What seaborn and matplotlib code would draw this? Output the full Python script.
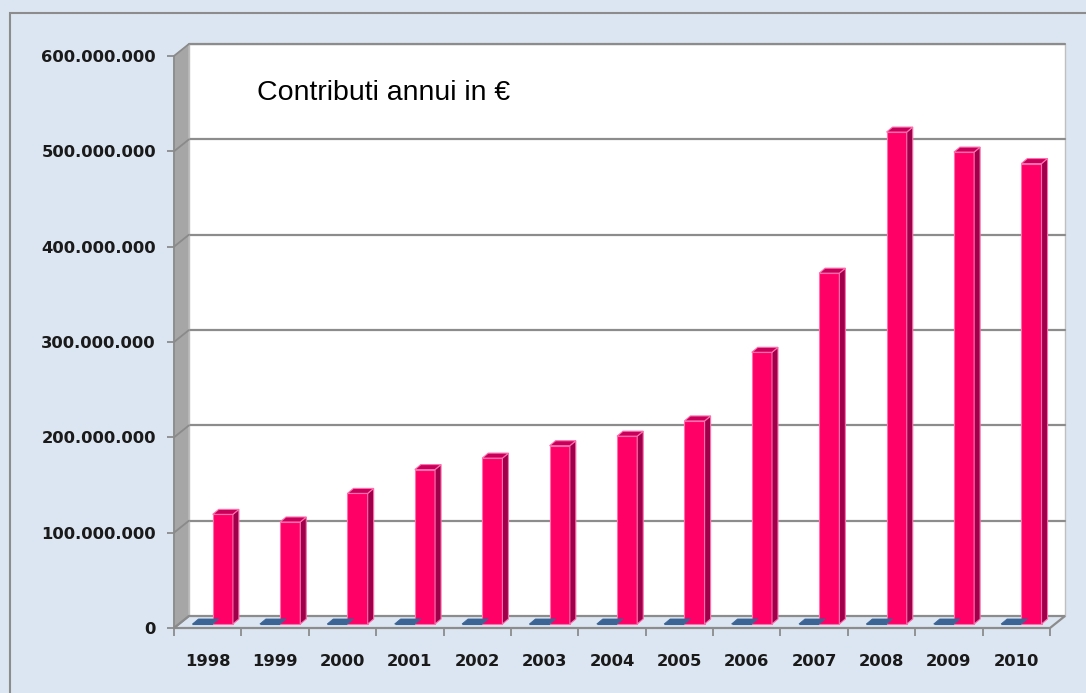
import numpy as np
import pandas as pd
import matplotlib
matplotlib.use("Agg")
import matplotlib.pyplot as plt
import matplotlib.transforms as mtransforms
from matplotlib.patches import Polygon, Rectangle
from matplotlib.lines import Line2D
from matplotlib import font_manager
import seaborn as sns

# ---------------- data ----------------
anni = ["1998", "1999", "2000", "2001", "2002", "2003", "2004",
        "2005", "2006", "2007", "2008", "2009", "2010"]
contributi = [115e6, 107e6, 137e6, 162e6, 174e6, 187e6, 197e6,
              213e6, 285e6, 368e6, 516e6, 495e6, 483e6]
serie_vuota = [0] * 13
y_ticks = [0, 100e6, 200e6, 300e6, 400e6, 500e6, 600e6]
y_labels = ["0", "100.000.000", "200.000.000", "300.000.000",
            "400.000.000", "500.000.000", "600.000.000"]
titolo = "Contributi annui in €"

df = pd.DataFrame({
    "anno": anni * 2,
    "valore": serie_vuota + contributi,
    "serie": ["Serie 1"] * 13 + ["Serie 2"] * 13,
})

# ---------------- style ----------------
BG = "#DCE6F2"
PINK = "#FF0066"
PINK_SIDE = "#A0004A"
PINK_TOP = "#C8005A"
PINK_EDGE = "#FF6FAE"
BLUE = "#3C6595"
GRID = "#8C8C8C"
WALL = "#A6A6A6"

sns.set_theme(style="white")
plt.rcParams["font.family"] = ["DejaVu Sans"]

W, H = 1086, 693
fig = plt.figure(figsize=(W / 100, H / 100), dpi=100, facecolor=BG)

# front plane: x 174..1050 px, y 628 (0) .. 56 (600M) px from top
left, right, y0, y6 = 174, 1050, 628, 56
ax = fig.add_axes([left / W, (H - y0) / H, (right - left) / W, (y0 - y6) / H])
ax.set_facecolor("none")

sns.barplot(data=df, x="anno", y="valore", hue="serie",
            palette=[BLUE, PINK], width=0.6, dodge=True,
            saturation=1, legend=False, ax=ax, zorder=5)

ax.set_xlim(-0.5, len(anni) - 0.5)
ax.set_ylim(0, 600e6)
for s in ax.spines.values():
    s.set_visible(False)
ax.set_xlabel("")
ax.set_ylabel("")

# ticks
ax.set_yticks(y_ticks)
ax.set_yticklabels(y_labels, fontsize=11.8, fontweight="bold", color="#1a1a1a")
ax.tick_params(axis="y", length=5, width=1.3, color=GRID, pad=8, left=True)
ax.set_xticks(range(len(anni)))
ax.set_xticklabels(anni, fontsize=11.8, fontweight="bold", color="#1a1a1a")
ax.tick_params(axis="x", which="major", length=0, pad=19)
ax.set_xticks(np.arange(-0.5, len(anni)), minor=True)
ax.tick_params(axis="x", which="minor", length=6, width=1.3, color=GRID,
               bottom=True)
ax.grid(False)

# ---------------- pseudo 3D frame ----------------
ID = mtransforms.IdentityTransform()
T = ax.transData
DX, DY = 15, 12            # wall depth (px)
BDX, BDY = 5, 4            # bar series depth position (px)
SDX, SDY = 6, 5            # bar depth (px)

xl, yb = T.transform((-0.5, 0))
xr, yt = T.transform((len(anni) - 0.5, 600e6))

# back wall
ax.add_patch(Polygon([(xl + DX, yb + DY), (xr + DX, yb + DY),
                      (xr + DX, yt + DY), (xl + DX, yt + DY)],
                     closed=True, transform=ID, facecolor="white",
                     edgecolor="#BFBFBF", lw=1, zorder=0, clip_on=False))
# side wall
ax.add_patch(Polygon([(xl, yb), (xl, yt), (xl + DX, yt + DY), (xl + DX, yb + DY)],
                     closed=True, transform=ID, facecolor=WALL,
                     edgecolor="#BDBDBD", lw=1, zorder=1, clip_on=False))
# floor
ax.add_patch(Polygon([(xl, yb), (xr, yb), (xr + DX, yb + DY), (xl + DX, yb + DY)],
                     closed=True, transform=ID, facecolor=BG,
                     edgecolor=GRID, lw=1.6, zorder=1, clip_on=False))
# grid lines
for v in y_ticks[1:]:
    _, yv = T.transform((0, v))
    ax.add_line(Line2D([xl + DX, xr + DX], [yv + DY, yv + DY], transform=ID,
                       color=GRID, lw=1.6, zorder=0.5, clip_on=False))
for v in y_ticks:
    _, yv = T.transform((0, v))
    ax.add_line(Line2D([xl, xl + DX], [yv, yv + DY], transform=ID,
                       color="#8A8A8A", lw=1.3, zorder=1.5, clip_on=False))
ax.add_line(Line2D([xl, xl], [yb, yt], transform=ID, color="#8A8A8A",
                   lw=1.3, zorder=1.5, clip_on=False))

# ---------------- bars: shift + side/top faces ----------------
shift = mtransforms.ScaledTranslation(BDX / 100, BDY / 100, fig.dpi_scale_trans)
for p in list(ax.patches):
    if not hasattr(p, "get_height") or p.get_zorder() != 5:
        continue
    x, w, h = p.get_x(), p.get_width(), p.get_height()
    (px0, py0) = T.transform((x, 0))
    (px1, py1) = T.transform((x + w, h))
    px0 += BDX; px1 += BDX; py0 += BDY; py1 += BDY
    is_pink = h > 0
    p.set_transform(T + shift)
    p.set_edgecolor(PINK_EDGE if is_pink else BLUE)
    p.set_linewidth(0.8)
    if is_pink:
        ax.add_patch(Polygon([(px1, py0), (px1, py1), (px1 + SDX, py1 + SDY),
                              (px1 + SDX, py0 + SDY)], closed=True, transform=ID,
                             facecolor=PINK_SIDE, edgecolor=PINK_EDGE, lw=0.8,
                             zorder=6, clip_on=False))
        ax.add_patch(Polygon([(px0, py1), (px1, py1), (px1 + SDX, py1 + SDY),
                              (px0 + SDX, py1 + SDY)], closed=True, transform=ID,
                             facecolor=PINK_TOP, edgecolor=PINK_EDGE, lw=0.8,
                             zorder=6, clip_on=False))
    else:
        ax.add_patch(Polygon([(px0, py1), (px1, py1), (px1 + SDX, py1 + SDY),
                              (px0 + SDX, py1 + SDY)], closed=True, transform=ID,
                             facecolor=BLUE, edgecolor=BLUE, lw=0.6,
                             zorder=6, clip_on=False))

# ---------------- title + border ----------------
avail = {f.name for f in font_manager.fontManager.ttflist}
tfam = [f for f in ["Liberation Sans Narrow", "Liberation Sans"] if f in avail]
tfam = tfam + ["DejaVu Sans"]
fig.text(257 / W, 1 - 93 / H, titolo, fontsize=20.5, family=tfam,
         ha="left", va="center", color="black", zorder=10)

fig.add_artist(Rectangle((10 / W, -0.05), 1.2, (H - 13) / H + 0.05,
                         transform=fig.transFigure, facecolor="none",
                         edgecolor="#8C8C8C", lw=1.5, zorder=-5))

fig.savefig("out.png", dpi=100, facecolor=BG)
